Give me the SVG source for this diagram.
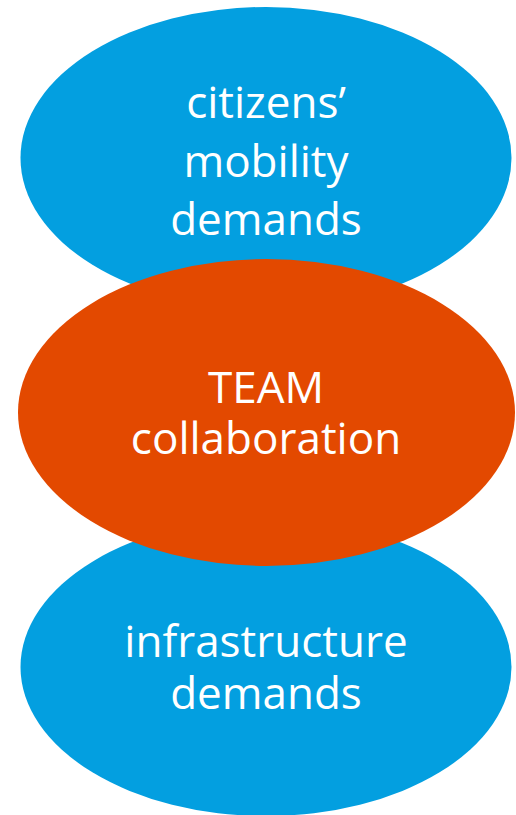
<svg xmlns="http://www.w3.org/2000/svg" width="516" height="815" viewBox="0 0 516 815">
<style>
.blue{fill:#039FE0}
.orange{fill:#E34900}
.t{font-family:"Open Sans","Noto Sans",sans-serif;font-size:44px;fill:#FFFFFF;text-anchor:middle}
</style>
<rect width="516" height="815" fill="#FFFFFF"/>
<g id="connectors"/>
<g id="node-citizens">
<ellipse class="blue" cx="266" cy="158" rx="245.5" ry="151"/>
<text class="t" x="266" y="118">citizens’</text>
<text class="t" x="266" y="176.5">mobility</text>
<text class="t" x="266" y="234.5">demands</text>
</g>
<g id="node-infrastructure">
<ellipse class="blue" cx="266" cy="667" rx="245.5" ry="149"/>
<text class="t" x="266" y="656.5">infrastructure</text>
<text class="t" x="266" y="709">demands</text>
</g>
<g id="node-team">
<ellipse class="orange" cx="266.5" cy="412.5" rx="248.5" ry="153.5"/>
<text class="t" x="266" y="402.5">TEAM</text>
<text class="t" x="266" y="454">collaboration</text>
</g>
</svg>
